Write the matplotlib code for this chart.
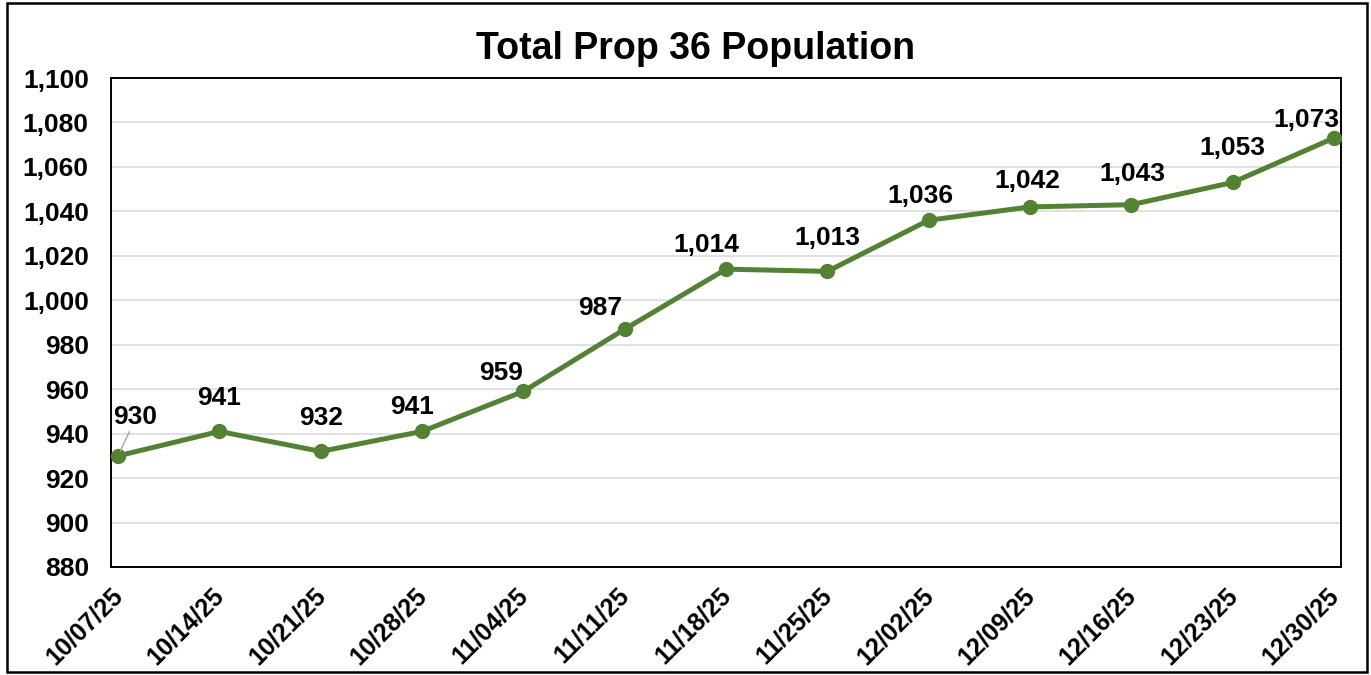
import matplotlib
matplotlib.use("Agg")
import matplotlib.pyplot as plt
from matplotlib.patches import Rectangle
from matplotlib.transforms import ScaledTranslation

plt.rcParams['font.family'] = ['Liberation Sans', 'DejaVu Sans']

# ---- data ----
dates = ["10/07/25", "10/14/25", "10/21/25", "10/28/25", "11/04/25", "11/11/25",
         "11/18/25", "11/25/25", "12/02/25", "12/09/25", "12/16/25", "12/23/25", "12/30/25"]
population = [930, 941, 932, 941, 959, 987, 1014, 1013, 1036, 1042, 1043, 1053, 1073]
y_ticks = [880, 900, 920, 940, 960, 980, 1000, 1020, 1040, 1060, 1080, 1100]
title = "Total Prop 36 Population"

# label offsets (pixels, dx right, dy up) as placed in the reference
label_offsets_px = [(17, 39), (0, 33), (0, 33), (-10, 24), (-22, 18), (-25, 21), (-20, 24),
                    (0, 33), (-8, 24), (-3, 26), (1, 31), (0, 34), (-28, 18)]

W, H = 1371, 675
DPI = 100
fig = plt.figure(figsize=(W / DPI, H / DPI), dpi=DPI)
fig.patch.set_facecolor("white")

ax = fig.add_axes([111 / W, 1 - 567 / H, (1341 - 111) / W, (567 - 78) / H])
green = "#548235"
x = list(range(len(dates)))
ax.plot(x, population, color=green, lw=3.6, marker="o", markersize=10,
        markerfacecolor=green, markeredgecolor=green, zorder=3, clip_on=False)

ax.set_xlim(-0.07, len(dates) - 1 + 0.07)
ax.set_ylim(880, 1100)
ax.set_yticks(y_ticks)
ax.set_yticklabels([f"{v:,}" for v in y_ticks], fontsize=19, fontweight="bold")
ax.set_xticks(x)
ax.set_xticklabels(dates, fontsize=18, fontweight="bold", rotation=45,
                   ha="right", va="center", rotation_mode="anchor")
ax.tick_params(axis="y", length=0, pad=16)
ax.tick_params(axis="x", length=0, pad=18)
off = ScaledTranslation(1 / DPI, 0, fig.dpi_scale_trans)
for lab in ax.get_xticklabels():
    lab.set_transform(lab.get_transform() + off)

ax.grid(axis="y", color="#d9d9d9", lw=1.1, zorder=0)
ax.set_axisbelow(True)
for s in ax.spines.values():
    s.set_color("black")
    s.set_linewidth(1.4)

for i, (v, (dx, dy)) in enumerate(zip(population, label_offsets_px)):
    kw = {}
    if i == 0:
        kw["arrowprops"] = dict(arrowstyle="-", color="#a6a6a6", lw=1.0,
                                shrinkA=0, shrinkB=4, relpos=(0.4, 0.0))
    ax.annotate(f"{v:,}", (i, v), xytext=(dx * 0.72, dy * 0.72), textcoords="offset points",
                ha="center", va="center", fontsize=19, fontweight="bold",
                color="black", zorder=4, annotation_clip=False, **kw)

fig.text(696 / W, 1 - 59 / H, title, ha="center", va="baseline",
         fontsize=27, fontweight="bold")

fig.patches.append(Rectangle((7 / W, 3.5 / H), (1366.5 - 7) / W, (672.5 - 3.5) / H,
                             transform=fig.transFigure, fill=False,
                             edgecolor="black", lw=1.8))

fig.savefig("out.png", dpi=DPI)
